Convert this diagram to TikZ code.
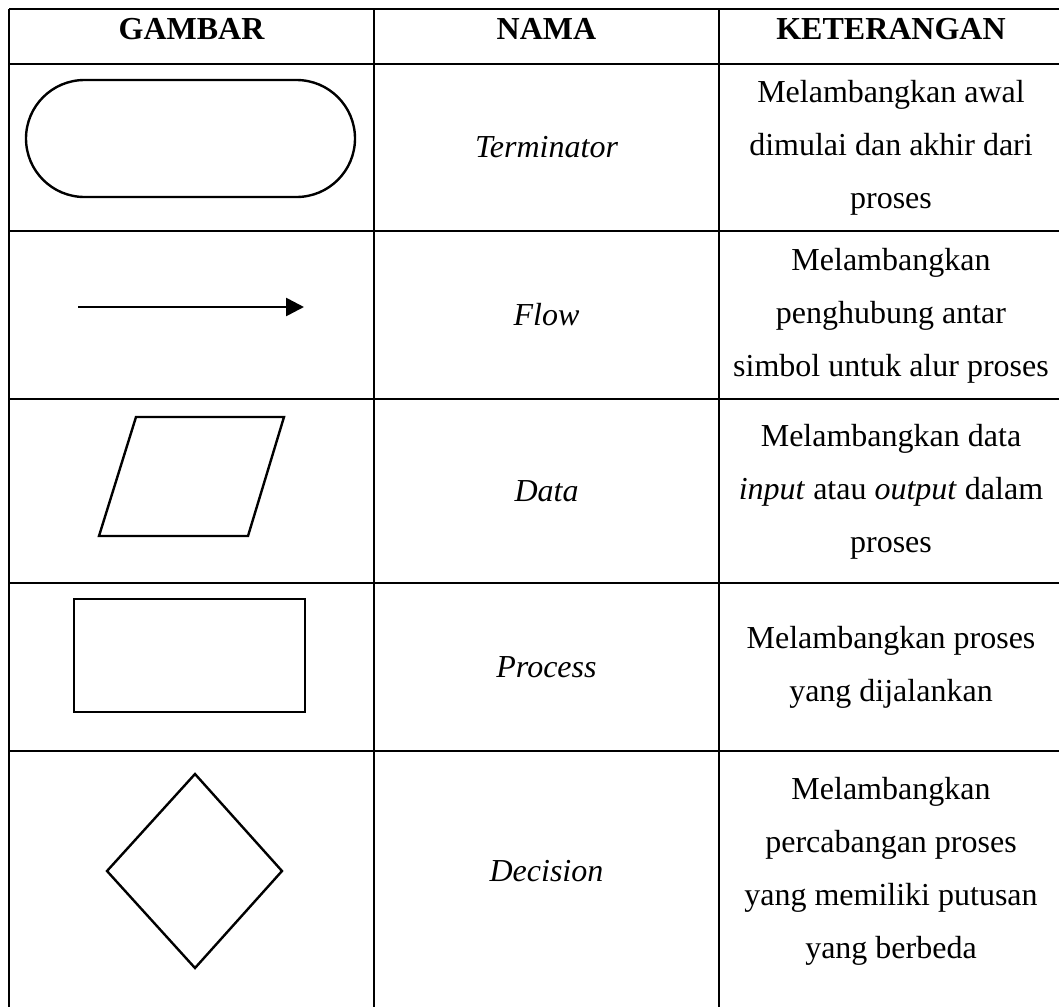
\documentclass[tikz,border=0pt]{standalone}
\usepackage{fontspec}
\setmainfont{Liberation Serif}
\usetikzlibrary{arrows.meta}
\begin{document}
\begin{tikzpicture}[x=1pt,y=-1pt,
  tableline/.style={line width=2.6pt},
  thinline/.style={line width=1.3pt},
  shapeline/.style={line width=2.4pt, line join=miter},
  hdr/.style={anchor=base, font=\fontsize{32}{40}\selectfont\bfseries, inner sep=0pt},
  nm/.style={anchor=base, font=\fontsize{32}{40}\selectfont\itshape, inner sep=0pt},
  desc/.style={anchor=base, align=center, font=\fontsize{32}{53}\selectfont, inner sep=0pt},
  flowarrow/.style={line width=2.6pt, -{Triangle[length=18pt,width=18pt]}}
]
\useasboundingbox (0,0) rectangle (1059,1007);
% table grid
\draw[tableline] (9,9) -- (1059,9);
\draw[tableline] (9,64) -- (1059,64);
\draw[tableline] (9,231) -- (1059,231);
\draw[thinline] (9,399) -- (1059,399);
\draw[tableline] (9,399) -- (83,399);
\draw[tableline] (300,399) -- (1059,399);
\draw[thinline] (9,583) -- (1059,583);
\draw[tableline] (9,583) -- (59,583);
\draw[tableline] (324,583) -- (1059,583);
\draw[thinline] (9,751) -- (1059,751);
\draw[tableline] (9,751) -- (75,751);
\draw[tableline] (306,751) -- (1059,751);
\draw[tableline] (9,9) -- (9,1007);
\draw[tableline] (374,9) -- (374,1007);
\draw[tableline] (719,9) -- (719,1007);
% headers
\node[hdr] (h1) at (191.5,39) {GAMBAR};
\node[hdr] (h2) at (546.5,39) {NAMA};
\node[hdr] (h3) at (891,39) {KETERANGAN};
% symbols
\node[shapeline, draw, minimum width=329pt, minimum height=117pt, rounded corners=58.5pt] (term) at (190.5,138.5) {};
\coordinate (fa) at (78,307);
\coordinate (fb) at (304,307);
\draw[flowarrow] (fa) -- (fb);
\draw[shapeline] (136,417) -- (284,417) -- (248,536) -- (99,536) -- cycle;
\draw[shapeline] (74,599) rectangle (305,712);
\draw[shapeline] (195,774) -- (282,871) -- (195,968) -- (107,871) -- cycle;
% names
\node[nm] (n1) at (546.5,157) {Terminator};
\node[nm] (n2) at (546.5,325) {Flow};
\node[nm] (n3) at (546.5,501) {Data};
\node[nm] (n4) at (546.5,677) {Process};
\node[nm] (n5) at (546.5,881) {Decision};
% descriptions (base = baseline of last line)
\node[desc] (d1) at (891,208.5) {Melambangkan awal\\dimulai dan akhir dari\\proses};
\node[desc] (d2) at (891,376) {Melambangkan\\penghubung antar\\simbol untuk alur proses};
\node[desc] (d3) at (891,552) {Melambangkan data\\\textit{input} atau \textit{output} dalam\\proses};
\node[desc] (d4) at (891,701.5) {Melambangkan proses\\yang dijalankan};
\node[desc] (d5) at (891,958) {Melambangkan\\percabangan proses\\yang memiliki putusan\\yang berbeda};
\end{tikzpicture}
\end{document}
